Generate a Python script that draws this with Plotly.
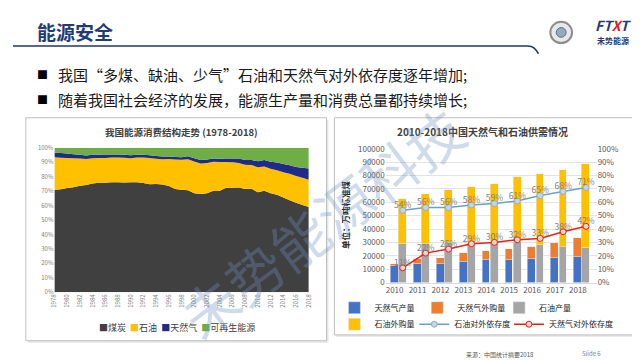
import plotly.graph_objects as go

W, H = 640, 360
def px(x): return x / W
def py(y): return 1 - y / H

FONT = "Noto Sans CJK SC"

# ---------- Left chart: energy consumption structure (%) ----------
mix_years = list(range(1978, 2019))
coal = [70.7, 71.3, 72.2, 72.7, 73.7, 74.2, 75.3, 75.8, 75.8, 76.2, 76.2, 76.0, 76.2, 76.1,
        75.7, 74.7, 75.0, 74.6, 73.5, 71.4, 70.9, 70.6, 68.5, 68.0, 68.5, 70.2, 70.2, 72.4,
        72.4, 72.5, 71.5, 71.6, 69.2, 70.2, 68.5, 67.4, 65.6, 63.7, 62.0, 60.4, 59.0]
oil = [22.7, 21.8, 20.7, 20.0, 18.9, 18.1, 17.4, 17.1, 17.2, 17.0, 17.0, 17.1, 16.6, 17.1,
       17.5, 18.2, 17.4, 17.5, 18.7, 20.4, 20.8, 21.5, 22.0, 21.2, 21.0, 20.1, 19.9, 17.8,
       17.5, 17.0, 16.7, 16.4, 17.4, 16.8, 17.0, 17.1, 17.4, 18.3, 18.5, 18.8, 18.9]
gas = [3.2, 3.3, 3.1, 2.8, 2.5, 2.4, 2.4, 2.2, 2.3, 2.1, 2.1, 2.0, 2.1, 2.0,
       1.9, 1.9, 1.9, 1.8, 1.8, 1.8, 1.8, 2.0, 2.2, 2.4, 2.3, 2.3, 2.3, 2.4,
       2.7, 3.0, 3.4, 3.5, 4.0, 4.6, 4.8, 5.3, 5.7, 5.9, 6.2, 7.0, 7.8]
renew = [3.4, 3.6, 4.0, 4.5, 4.9, 5.3, 4.9, 4.9, 4.7, 4.7, 4.7, 4.9, 5.1, 4.8,
         4.9, 5.2, 5.7, 6.1, 6.0, 6.4, 6.5, 5.9, 7.3, 8.4, 8.2, 7.4, 7.6, 7.4,
         7.4, 7.5, 8.4, 8.5, 9.4, 8.4, 9.7, 10.2, 11.3, 12.1, 13.3, 13.8, 14.3]
mix_names = ["煤炭", "石油", "天然气", "可再生能源"]
mix_colors = ["#404040", "#FFC000", "#1F2A8A", "#70AD47"]
mix_ticks = list(range(1978, 2019, 2))
pct_ticks = list(range(0, 101, 10))

# ---------- Right chart: gas & oil supply (万吨标准煤) ----------
years = [2010, 2011, 2012, 2013, 2014, 2015, 2016, 2017, 2018]
gas_prod = [12600, 14000, 14100, 15600, 16800, 17000, 17700, 18600, 19400]
gas_import = [1600, 4000, 4700, 6400, 7200, 8000, 8800, 11400, 14100]
oil_prod = [29000, 29000, 30000, 30000, 30300, 30800, 28400, 27000, 25700]
oil_import = [34000, 37000, 39000, 41500, 43700, 48200, 52600, 57500, 62800]
oil_dep = [0.54, 0.56, 0.56, 0.58, 0.59, 0.61, 0.65, 0.68, 0.71]
gas_dep = [0.11, 0.22, 0.25, 0.29, 0.30, 0.32, 0.33, 0.38, 0.42]

BW = 0.34
OFF = 0.355
oil_x = [y + OFF for y in years]

fig = go.Figure()

for vals, name, col in zip([coal, oil, gas, renew], mix_names, mix_colors):
    fig.add_trace(go.Scatter(x=mix_years, y=vals, name=name, mode="none",
                             stackgroup="mix", groupnorm="percent", fillcolor=col,
                             xaxis="x", yaxis="y", showlegend=False, hoverinfo="skip"))

fig.add_trace(go.Bar(x=years, y=gas_prod, width=BW, name="天然气产量", marker_color="#4472C4",
                     xaxis="x2", yaxis="y2", legend="legend"))
fig.add_trace(go.Bar(x=years, y=gas_import, width=BW, name="天然气外购量", marker_color="#ED7D31",
                     xaxis="x2", yaxis="y2", legend="legend2"))
fig.add_trace(go.Bar(x=oil_x, y=oil_prod, width=BW, name="石油产量", marker_color="#A5A5A5",
                     xaxis="x2", yaxis="y2", legend="legend3"))
fig.add_trace(go.Bar(x=oil_x, y=oil_import, width=BW, name="石油外购量", marker_color="#FFC000",
                     xaxis="x2", yaxis="y2", legend="legend4"))
fig.add_trace(go.Scatter(x=oil_x, y=oil_dep, name="石油对外依存度", mode="lines+markers",
                         line=dict(color="#6A9FD0", width=1.5),
                         marker=dict(size=6, color="#C5D3E3", line=dict(color="#8FAFD3", width=1)),
                         xaxis="x2", yaxis="y3", legend="legend5"))
fig.add_trace(go.Scatter(x=oil_x, y=gas_dep, name="天然气对外依存度", mode="lines+markers",
                         line=dict(color="#E2231A", width=1.5),
                         marker=dict(size=6, color="#F9D0CF", line=dict(color="#E2231A", width=1)),
                         xaxis="x2", yaxis="y3", legend="legend6"))
for dep in (oil_dep, gas_dep):
    fig.add_trace(go.Scatter(x=oil_x, y=dep, mode="text", texttemplate="%{y:.0%}",
                             textposition="top center",
                             textfont=dict(size=8.5, color="#7F7F7F", family=FONT),
                             xaxis="x2", yaxis="y3", showlegend=False, hoverinfo="skip"))

tickfont_small = dict(size=6, color="#808080", family=FONT)
tickfont_r = dict(size=8, color="#595959", family=FONT)

def leg(x, y):
    return dict(x=px(x), y=py(y), xanchor="left", yanchor="middle", orientation="h",
                font=dict(size=8, color="#1A1A1A", family=FONT), bgcolor="rgba(0,0,0,0)",
                itemwidth=30, borderwidth=0)

fig.update_layout(
    width=W, height=H, margin=dict(l=0, r=0, t=0, b=0),
    paper_bgcolor="white", plot_bgcolor="rgba(0,0,0,0)",
    font=dict(family=FONT),
    barmode="stack", bargap=0,
    xaxis=dict(domain=[px(42), px(300)], range=[1978, 2018], tickvals=mix_ticks,
               tickangle=-90, tickfont=tickfont_small, showgrid=False, zeroline=False,
               showline=False, ticks="", anchor="y"),
    yaxis=dict(domain=[py(287), py(138)], range=[0, 100], tickvals=pct_ticks,
               ticktext=[f"{v}%" for v in pct_ticks], tickfont=tickfont_small,
               showgrid=False, zeroline=False, showline=False, ticks="", anchor="x"),
    xaxis2=dict(domain=[px(378), px(592)], range=[2009.61, 2018.82], tickvals=years,
                tickfont=tickfont_r, showgrid=False, zeroline=False, showline=True,
                linecolor="#D9D9D9", ticks="", anchor="y2"),
    yaxis2=dict(domain=[py(277), py(139)], range=[0, 100000], dtick=10000, tickformat="d",
                tickfont=tickfont_r, showgrid=True, gridcolor="#E3E3E3", zeroline=False,
                showline=False, ticks="", anchor="x2"),
    yaxis3=dict(overlaying="y2", side="right", range=[0, 1], dtick=0.1, tickformat=".0%",
                tickfont=tickfont_r, showgrid=False, zeroline=False, showline=False,
                ticks="", anchor="x2"),
    legend=leg(326, 303), legend2=leg(410, 303), legend3=leg(493, 303),
    legend4=leg(326, 320), legend5=leg(407, 320), legend6=leg(503, 320),
)

ann = []
def A(x, y, text, size, color="#262626", xanchor="center", angle=0, **kw):
    ann.append(dict(x=px(x), y=py(y), xref="paper", yref="paper", text=text, showarrow=False,
                    xanchor=xanchor, yanchor="middle", textangle=angle,
                    font=dict(size=size, color=color, family=FONT), **kw))

A(22, 18, "<b>能源安全</b>", 19, "#1F3C78", "left")
A(22, 62, "■", 11, "#000000", "left")
A(44, 62, "我国“多煤、缺油、少气”石油和天然气对外依存度逐年增加;", 15, "#1A1A1A", "left")
A(22, 88, "■", 11, "#000000", "left")
A(44, 88, "随着我国社会经济的发展，能源生产量和消费总量都持续增长;", 15, "#1A1A1A", "left")
A(171, 122, "<b>我国能源消费结构走势 (1978-2018)</b>", 9.5, "#404040")
legend_left = "  ".join(f"<span style='color:{c}'>■</span>{n}" for n, c in zip(mix_names, mix_colors))
A(166, 323, legend_left, 9, "#404040")
A(476, 121, "<b>2010-2018中国天然气和石油供需情况</b>", 10, "#404040")
A(336, 207, "<b>单位：万吨标准煤</b>", 8.5, "#262626", angle=-90)
A(457, 351, "来源：中国统计摘要2018", 6, "#595959", "left")
A(575, 350, "Slide 6", 6, "#808080", "left")
A(609, 11, "<b><i>FT<span style='color:#E02020'>X</span>T</i></b>", 14, "#1F3C78")
A(609, 27, "<b>未势能源</b>", 8, "#1F3C78")
A(312, 214, "未势能源科技", 56, "rgba(110,145,195,0.33)", angle=-37)
fig.update_layout(annotations=ann)

shapes = []
def rect(x0, y0, x1, y1, **kw):
    shapes.append(dict(type="rect", xref="paper", yref="paper", x0=px(x0), x1=px(x1),
                       y0=py(y1), y1=py(y0), **kw))

rect(15, 109, 320, 339, line=dict(width=0), fillcolor="#E6E6E6", layer="below")
rect(13, 107, 318, 337, line=dict(color="#BFBFBF", width=1), fillcolor="white", layer="below")
rect(328, 109, 632, 333, line=dict(width=0), fillcolor="#E6E6E6", layer="below")
rect(326, 107, 630, 331, line=dict(color="#BFBFBF", width=1), fillcolor="white", layer="below")
shapes.append(dict(type="path", xref="paper", yref="paper",
                   path=f"M 0 {py(33)} L {px(522)} {py(33)} C {px(528)} {py(33)} {px(530)} {py(36)} {px(533)} {py(41)}",
                   line=dict(color="#1F3864", width=1.5)))
shapes.append(dict(type="circle", xref="paper", yref="paper", x0=px(545), x1=px(567),
                   y0=py(30), y1=py(8), line=dict(color="#8C8C8C", width=2), fillcolor="#E8E8E8"))
shapes.append(dict(type="circle", xref="paper", yref="paper", x0=px(551), x1=px(561),
                   y0=py(24), y1=py(14), line=dict(color="#5A6E8C", width=1), fillcolor="#9AA8BC"))
fig.update_layout(shapes=shapes)

fig.write_html("out.html")
